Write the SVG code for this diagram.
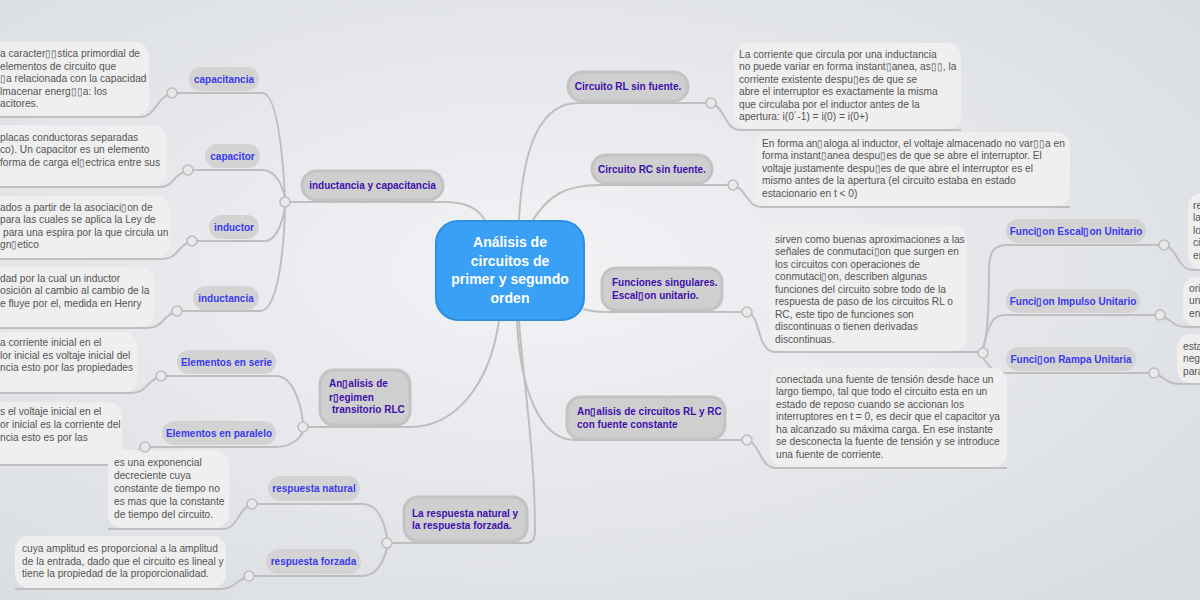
<svg xmlns="http://www.w3.org/2000/svg" width="1200" height="600" viewBox="0 0 1200 600">
<defs>
<radialGradient id="bg" cx="45%" cy="45%" r="70%">
<stop offset="0" stop-color="#f2f3f5"/>
<stop offset="1" stop-color="#dadde2"/>
</radialGradient>
<style>
.c{fill:none;stroke:#bfbfbf;stroke-width:2}
.hub{fill:#e8e9eb;stroke:#bdbdbd;stroke-width:1.6}
.leaf{fill:#efefef}
.lt{font-family:"Liberation Sans",Arial,sans-serif;font-size:10.2px;fill:#555}
.main{fill:#cfcfcf;stroke:#c3c3c4;stroke-width:3}
.mt{font-family:"Liberation Sans",Arial,sans-serif;font-size:10px;font-weight:bold;fill:#3f0fae}
.sub{fill:#d3d3d3}
.st{font-family:"Liberation Sans",Arial,sans-serif;font-size:10px;font-weight:bold;fill:#3a3af2;text-anchor:middle}
.ct{font-family:"Liberation Sans",Arial,sans-serif;font-size:14px;font-weight:bold;fill:#fff;text-anchor:middle}
</style>
</defs>
<rect width="1200" height="600" fill="url(#bg)"/>

<g id="connectors">
<!-- center to main -->
<path class="c" d="M290,202 L445,202 C465,202 478,208 485,220"/>
<path class="c" d="M308,427 L410,427 C455,427 490,385 499,320"/>
<path class="c" d="M392,543 L527,543 C533,543 535,538 535,530 C535,450 522,370 519,320"/>
<path class="c" d="M519,220 C522,160 535,103 578,103 L706,103"/>
<path class="c" d="M533,220 C548,196 565,185 600,185 L728,185"/>
<path class="c" d="M583,309 C592,312 598,312 608,312 L742,312"/>
<path class="c" d="M517,320 C520,390 540,440 575,440 L742,440"/>
<!-- hub to sub nodes left -->
<path class="c" d="M177,93 L262,93 C280,93 284,180 285,197"/>
<path class="c" d="M193,170 L262,170 C278,170 283,190 285,197"/>
<path class="c" d="M197,241 L265,241 C278,241 284,215 285,207"/>
<path class="c" d="M182,311 L260,311 C278,311 284,250 285,207"/>
<path class="c" d="M166,376 L276,376 C292,376 300,400 303,422"/>
<path class="c" d="M150,447 L276,447 C292,447 300,438 303,432"/>
<path class="c" d="M257,504 L362,504 C378,504 384,520 387,538"/>
<path class="c" d="M254,576 L362,576 C378,576 384,560 387,548"/>
<!-- hub to sub nodes right -->
<path class="c" d="M983,348 C988,335 989,300 989,270 C989,250 995,245 1008,245 L1159,245"/>
<path class="c" d="M983,348 C988,330 990,315 1005,315 L1155,315"/>
<path class="c" d="M983,358 C990,368 995,373 1008,373 L1149,373"/>
<!-- leaf connectors -->
<path class="c" d="M168,95 C157,98 155,117 140,117 L-5,117"/>
<path class="c" d="M184,172 C174,175 173,187 160,187 L-5,187"/>
<path class="c" d="M188,243 C178,246 177,259 163,259 L-5,259"/>
<path class="c" d="M173,313 C163,316 162,328 148,328 L-5,328"/>
<path class="c" d="M157,378 C147,381 146,393 132,393 L-5,393"/>
<path class="c" d="M141,449 C131,452 130,465 116,465 L-5,465"/>
<path class="c" d="M248,506 C239,510 237,529 223,529 L108,529"/>
<path class="c" d="M245,578 C236,581 234,589 220,589 L15,589"/>
<path class="c" d="M715,105 C724,109 726,130 740,130 L961,130"/>
<path class="c" d="M737,187 C746,191 748,207 762,207 L1070,207"/>
<path class="c" d="M751,314 C760,320 758,352 775,352 L978,352"/>
<path class="c" d="M751,442 C760,447 761,468 776,468 L1007,468"/>
<path class="c" d="M1168,247 C1177,251 1179,270 1193,270 L1205,270"/>
<path class="c" d="M1164,317 C1173,321 1173,327 1187,327 L1205,327"/>
<path class="c" d="M1158,375 C1167,379 1167,384 1181,384 L1205,384"/>
</g>

<g id="leaf-capacitancia"><rect class="leaf" x="-20" y="42" width="169" height="74" rx="14"/>
<text class="lt"><tspan x="0" y="57">a caracter▯▯stica primordial de</tspan><tspan x="0" y="69.5">elementos de circuito que</tspan><tspan x="0" y="82">▯a relacionada con la  capacidad</tspan><tspan x="0" y="94.5">lmacenar energ▯▯a: los</tspan><tspan x="0" y="107">acitores.</tspan></text></g>
<g id="leaf-capacitor"><rect class="leaf" x="-20" y="125" width="186" height="61" rx="14"/>
<text class="lt"><tspan x="0" y="140.5">placas conductoras separadas</tspan><tspan x="0" y="153">co). Un capacitor es un elemento</tspan><tspan x="0" y="165.5">forma de carga el▯ectrica entre sus</tspan></text></g>
<g id="leaf-inductor"><rect class="leaf" x="-20" y="196" width="190" height="62" rx="14"/>
<text class="lt"><tspan x="0" y="210.5">ados a partir de la asociaci▯on de</tspan><tspan x="0" y="223">para las cuales se aplica la Ley de</tspan><tspan x="3" y="235.5">para una espira por la que circula un</tspan><tspan x="0" y="248">gn▯etico</tspan></text></g>
<g id="leaf-inductancia"><rect class="leaf" x="-20" y="267" width="174" height="60" rx="14"/>
<text class="lt"><tspan x="0" y="281.5">dad por la cual un inductor</tspan><tspan x="0" y="294">osición al cambio al cambio de la</tspan><tspan x="0" y="306.5">e fluye por el, medida en Henry</tspan></text></g>
<g id="leaf-serie"><rect class="leaf" x="-20" y="332" width="157" height="60" rx="14"/>
<text class="lt"><tspan x="0" y="346">a corriente inicial en el</tspan><tspan x="0" y="358.5">lor inicial es voltaje inicial del</tspan><tspan x="0" y="371">ncia esto por las propiedades</tspan></text></g>
<g id="leaf-paralelo"><rect class="leaf" x="-20" y="402" width="142" height="62" rx="14"/>
<text class="lt"><tspan x="0" y="414.5">s el voltaje inicial en el</tspan><tspan x="0" y="428">or inicial es la corriente del</tspan><tspan x="0" y="441">ncia esto es por las</tspan></text></g>
<g id="leaf-natural"><rect class="leaf" x="108" y="450" width="121" height="78" rx="14"/>
<text class="lt"><tspan x="114" y="465.5">es una exponencial</tspan><tspan x="114" y="478.5">decreciente cuya</tspan><tspan x="114" y="491.5">constante de tiempo no</tspan><tspan x="114" y="504.5">es mas que la constante</tspan><tspan x="114" y="517.5">de tiempo del circuito.</tspan></text></g>
<g id="leaf-forzada"><rect class="leaf" x="15" y="536" width="211" height="52" rx="14"/>
<text class="lt"><tspan x="22" y="552">cuya amplitud es proporcional a la amplitud</tspan><tspan x="22" y="564.5">de la entrada, dado que el circuito es lineal y</tspan><tspan x="22" y="577">tiene la propiedad de la  proporcionalidad.</tspan></text></g>
<g id="leaf-rl"><rect class="leaf" x="734" y="43" width="227" height="86" rx="14"/>
<text class="lt"><tspan x="739" y="57.5">La corriente que circula por una inductancia</tspan><tspan x="739" y="70">no puede variar en forma instant▯anea, as▯▯, la</tspan><tspan x="739" y="82.5">corriente existente despu▯es de que se</tspan><tspan x="739" y="95">abre el interruptor es exactamente la misma</tspan><tspan x="739" y="107.5">que circulaba por el inductor antes de la</tspan><tspan x="739" y="120">apertura: i(0´-1) = i(0) = i(0+)</tspan></text></g>
<g id="leaf-rc"><rect class="leaf" x="756" y="132" width="314" height="74" rx="14"/>
<text class="lt"><tspan x="762" y="146.5">En forma an▯aloga al inductor, el voltaje almacenado no var▯▯a en</tspan><tspan x="762" y="159">forma instant▯anea despu▯es de que se abre el interruptor. El</tspan><tspan x="762" y="171.5">voltaje justamente despu▯es de que abre el interruptor es el</tspan><tspan x="762" y="184">mismo antes de la apertura (el circuito estaba en estado</tspan><tspan x="762" y="196.5">estacionario en t &lt; 0)</tspan></text></g>
<g id="leaf-funciones"><rect class="leaf" x="769" y="225" width="198" height="126" rx="14"/>
<text class="lt"><tspan x="775" y="242.5">sirven como buenas aproximaciones a las</tspan><tspan x="775" y="255">señales de conmutaci▯on que surgen en</tspan><tspan x="775" y="267.5">los circuitos con operaciones  de</tspan><tspan x="775" y="280">conmutaci▯on, describen algunas</tspan><tspan x="775" y="292.5">funciones del circuito sobre todo de la</tspan><tspan x="775" y="305">respuesta de paso de los circuitos RL o</tspan><tspan x="775" y="317.5">RC, este tipo de funciones son</tspan><tspan x="775" y="330">discontinuas o tienen derivadas</tspan><tspan x="775" y="342.5">discontinuas.</tspan></text></g>
<g id="leaf-constante"><rect class="leaf" x="770" y="368" width="237" height="99" rx="14"/>
<text class="lt"><tspan x="776" y="382.5">conectada una fuente de tensión desde hace un</tspan><tspan x="776" y="395">largo tiempo, tal que todo el circuito esta en un</tspan><tspan x="776" y="407.5">estado de reposo cuando se accionan los</tspan><tspan x="776" y="420">interruptores en t = 0, es decir que el capacitor ya</tspan><tspan x="776" y="432.5">ha alcanzado su máxima carga. En ese instante</tspan><tspan x="776" y="445">se desconecta la fuente de tensión y se introduce</tspan><tspan x="776" y="457.5">una fuente de corriente.</tspan></text></g>
<g id="leaf-escalon"><rect class="leaf" x="1188" y="193" width="40" height="76" rx="14"/>
<text class="lt"><tspan x="1193" y="208.5">re</tspan><tspan x="1193" y="221">la</tspan><tspan x="1193" y="233.5">lo</tspan><tspan x="1193" y="246">ci</tspan><tspan x="1193" y="258.5">er</tspan></text></g>
<g id="leaf-impulso"><rect class="leaf" x="1183" y="277" width="40" height="49" rx="14"/>
<text class="lt"><tspan x="1189" y="291.5">ori</tspan><tspan x="1189" y="304">un</tspan><tspan x="1189" y="316.5">en</tspan></text></g>
<g id="leaf-rampa"><rect class="leaf" x="1177" y="334" width="40" height="49" rx="14"/>
<text class="lt"><tspan x="1183" y="349.5">esta</tspan><tspan x="1183" y="362">neg</tspan><tspan x="1183" y="374.5">para</tspan></text></g>

<g id="center"><rect x="436" y="221" width="148" height="99" rx="22" fill="#39a0f6" stroke="#2e8fe3" stroke-width="2"/>
<text class="ct"><tspan x="510" y="247">Análisis de</tspan><tspan x="510" y="265.5">circuitos de</tspan><tspan x="510" y="284">primer y segundo</tspan><tspan x="510" y="302.5">orden</tspan></text></g>

<g id="n-indcap"><rect class="main" x="302" y="171" width="141" height="29" rx="14.5"/><text class="mt" x="372.5" y="189" text-anchor="middle">inductancia y capacitancia</text></g>
<g id="n-rlc"><rect class="main" x="320" y="370" width="90" height="55" rx="14"/><text class="mt"><tspan x="329" y="387">An▯alisis de</tspan><tspan x="329" y="400.5">r▯egimen</tspan><tspan x="332" y="413">transitorio RLC</tspan></text></g>
<g id="n-respuesta"><rect class="main" x="404" y="497" width="123" height="44" rx="14"/><text class="mt"><tspan x="412" y="517">La respuesta natural y</tspan><tspan x="412" y="529">la respuesta forzada.</tspan></text></g>
<g id="n-rl"><rect class="main" x="568" y="72" width="120" height="29" rx="14.5"/><text class="mt" x="628" y="90" text-anchor="middle">Circuito RL sin fuente.</text></g>
<g id="n-rc"><rect class="main" x="592" y="155" width="120" height="28" rx="14"/><text class="mt" x="652" y="172.5" text-anchor="middle">Circuito RC sin fuente.</text></g>
<g id="n-funciones"><rect class="main" x="602" y="268" width="120" height="42" rx="14"/><text class="mt"><tspan x="612" y="285.5">Funciones singulares.</tspan><tspan x="612" y="298.5">Escal▯on unitario.</tspan></text></g>
<g id="n-constante"><rect class="main" x="567" y="397" width="158" height="42" rx="14"/><text class="mt"><tspan x="577" y="415">An▯alisis de circuitos RL y RC</tspan><tspan x="577" y="427.5">con fuente constante</tspan></text></g>

<g id="s-capacitancia"><rect class="sub" x="189" y="67" width="70" height="24" rx="12"/><text class="st" x="224" y="83">capacitancia</text></g>
<g id="s-capacitor"><rect class="sub" x="205" y="144" width="55" height="24" rx="12"/><text class="st" x="232.5" y="160">capacitor</text></g>
<g id="s-inductor"><rect class="sub" x="209" y="215" width="50" height="24" rx="12"/><text class="st" x="234" y="230.5">inductor</text></g>
<g id="s-inductancia"><rect class="sub" x="193" y="286" width="66" height="24" rx="12"/><text class="st" x="226" y="301.5">inductancia</text></g>
<g id="s-serie"><rect class="sub" x="177" y="350" width="99" height="24" rx="12"/><text class="st" x="226.5" y="365.5">Elementos en serie</text></g>
<g id="s-paralelo"><rect class="sub" x="162" y="421" width="114" height="24" rx="12"/><text class="st" x="219" y="436.5">Elementos en paralelo</text></g>
<g id="s-natural"><rect class="sub" x="268" y="476" width="92" height="25" rx="12.5"/><text class="st" x="314" y="492">respuesta natural</text></g>
<g id="s-forzada"><rect class="sub" x="266" y="549" width="95" height="25" rx="12.5"/><text class="st" x="313.5" y="565">respuesta forzada</text></g>
<g id="s-escalon"><rect class="sub" x="1006" y="219" width="140" height="24" rx="12"/><text class="st" x="1076" y="234.5">Funci▯on Escal▯on Unitario</text></g>
<g id="s-impulso"><rect class="sub" x="1006" y="289" width="134" height="24" rx="12"/><text class="st" x="1073" y="304.5">Funci▯on Impulso Unitario</text></g>
<g id="s-rampa"><rect class="sub" x="1006" y="347" width="130" height="24" rx="12"/><text class="st" x="1071" y="362.5">Funci▯on Rampa Unitaria</text></g>

<g id="hubs">
<circle class="hub" cx="285" cy="202" r="5"/>
<circle class="hub" cx="303" cy="427" r="5"/>
<circle class="hub" cx="387" cy="543" r="5"/>
<circle class="hub" cx="172" cy="93" r="5"/>
<circle class="hub" cx="188" cy="170" r="5"/>
<circle class="hub" cx="192" cy="241" r="5"/>
<circle class="hub" cx="177" cy="311" r="5"/>
<circle class="hub" cx="161" cy="376" r="5"/>
<circle class="hub" cx="145" cy="447" r="5"/>
<circle class="hub" cx="252" cy="504" r="5"/>
<circle class="hub" cx="249" cy="576" r="5"/>
<circle class="hub" cx="711" cy="103" r="5"/>
<circle class="hub" cx="733" cy="185" r="5"/>
<circle class="hub" cx="747" cy="312" r="5"/>
<circle class="hub" cx="747" cy="440" r="5"/>
<circle class="hub" cx="983" cy="353" r="5"/>
<circle class="hub" cx="1164" cy="245" r="5"/>
<circle class="hub" cx="1160" cy="315" r="5"/>
<circle class="hub" cx="1154" cy="373" r="5"/>
</g>
</svg>
